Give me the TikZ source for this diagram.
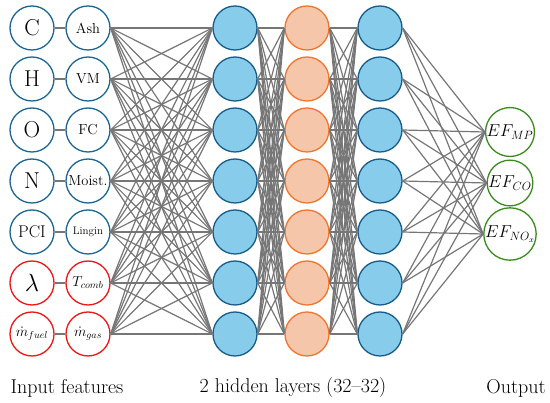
\documentclass[tikz,border=0pt]{standalone}
\usetikzlibrary{positioning}

\definecolor{inblue}{RGB}{28,102,148}
\definecolor{inred}{RGB}{240,22,22}
\definecolor{hidfill}{RGB}{135,204,234}
\definecolor{hiddraw}{RGB}{24,92,138}
\definecolor{orfill}{RGB}{245,198,170}
\definecolor{ordraw}{RGB}{240,118,46}
\definecolor{outgreen}{RGB}{58,138,30}
\definecolor{linkgray}{RGB}{118,118,118}

\tikzset{
  neuron/.style={circle, minimum size=44pt, inner sep=0pt, line width=1.3pt},
  feat/.style={neuron, font=\fontsize{23}{25}\selectfont},
  prop/.style={neuron, font=\fontsize{14.5}{16}\selectfont},
  hidA/.style={neuron, draw=hiddraw, fill=hidfill},
  hidB/.style={neuron, draw=ordraw, fill=orfill},
  outn/.style={neuron, draw=outgreen, font=\fontsize{16.5}{18}\selectfont},
  link/.style={draw=linkgray, line width=1.2pt},
  caption/.style={font=\fontsize{20}{24}\selectfont}
}

\begin{document}
\begin{tikzpicture}[x=1pt,y=-1pt]

    \useasboundingbox (0,0) rectangle (550,403);

    % Input features: element / property pairs, one row each
    \foreach \sym/\prp/\col [count=\i] in {
        C/Ash/inblue,
        H/VM/inblue,
        O/FC/inblue,
        N/Moist./inblue,
        {\fontsize{17}{18}\selectfont PCI}/{\fontsize{11}{12}\selectfont Lingin}/inblue,
        $\lambda$/$T_{comb}$/inred,
        {\fontsize{14}{15}\selectfont $\dot m_{fuel}$}/{\fontsize{14}{15}\selectfont $\dot m_{gas}$}/inred}
    {
        \node[feat, draw=\col] (a\i) at (32,{28+51*(\i-1)}) {\sym};
        \node[prop, draw=\col] (b\i) at (88,{28+51*(\i-1)}) {\prp};
        \draw[link] (a\i) -- (b\i);
    }

    % Two hidden layers plus the blue layer before the output
    \foreach \i in {1,...,7} {
        \node[hidA] (h\i) at (235,{28+51*(\i-1)}) {};
        \node[hidB] (g\i) at (307,{28+51*(\i-1)}) {};
        \node[hidA] (k\i) at (380,{28+51*(\i-1)}) {};
    }

    % Output nodes
    \foreach \lab [count=\j] in {MP,CO,NO_x}
        \node[outn] (o\j) at (510,{132+51*(\j-1)}) {$EF_{\lab}$};

    % Full connections between the layers
    \foreach \i in {1,...,7} {
        \foreach \j in {1,...,7} {
            \draw[link] (b\i.east) -- (h\j.west);
            \draw[link] (h\i.east) -- (g\j.west);
            \draw[link] (g\i.east) -- (k\j.west);
        }
        \foreach \j in {1,2,3}
            \draw[link] (k\i.east) -- (o\j.west);
    }

    % Captions under the columns
    \node[caption] (capin)  at (67,388)  {Input features};
    \node[caption] (caphid) at (293,388) {2 hidden layers (32--32)};
    \node[caption] (capout) at (516,388) {Output};

\end{tikzpicture}
\end{document}
